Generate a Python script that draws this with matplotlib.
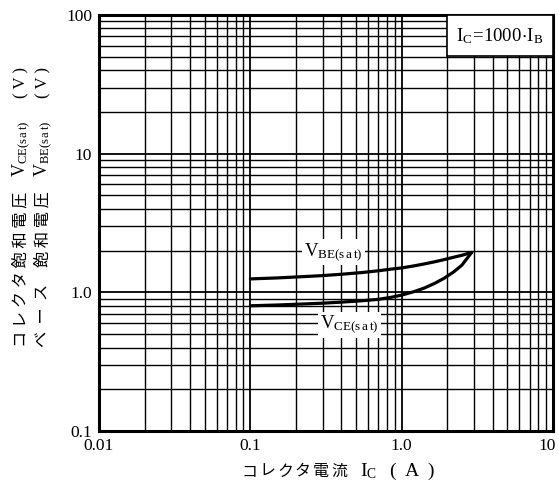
import matplotlib
matplotlib.use("Agg")
import matplotlib.pyplot as plt
from matplotlib.ticker import LogLocator, NullFormatter, FixedLocator, FixedFormatter
from matplotlib.patches import Rectangle
import matplotlib.transforms as mtransforms

plt.rcParams['font.family'] = ['Liberation Serif', 'Noto Sans CJK JP']
plt.rcParams['mathtext.fontset'] = 'custom'
plt.rcParams['mathtext.rm'] = 'Liberation Serif'
plt.rcParams['mathtext.it'] = 'Liberation Serif'

# Data
ic = [0.1, 0.15, 0.2, 0.3, 0.4, 0.55, 0.7, 0.85, 1.0, 1.2, 1.4, 1.65, 1.9, 2.2, 2.5, 2.9]
vbe = [1.25, 1.27, 1.29, 1.32, 1.35, 1.39, 1.43, 1.47, 1.50, 1.55, 1.60, 1.66, 1.72, 1.79, 1.85, 1.94]
vce = [0.80, 0.81, 0.82, 0.835, 0.85, 0.87, 0.89, 0.92, 0.955, 1.01, 1.07, 1.16, 1.26, 1.40, 1.57, 1.94]

xticks = [0.01, 0.1, 1.0, 10]
xticklabels = ['0.01', '0.1', '1.0', '10']
yticks = [0.1, 1.0, 10, 100]
yticklabels = ['0.1', '1.0', '10', '100']
xlabel_chars = ['コ', 'レ', 'ク', 'タ', '電', '流']

W, H = 559, 484
fig = plt.figure(figsize=(W / 100, H / 100), dpi=100)
ax = fig.add_axes([99 / W, 53 / H, 454 / W, 416 / H])
ax.set_xscale('log')
ax.set_yscale('log')
ax.set_xlim(0.01, 10)
ax.set_ylim(0.1, 100)

ax.xaxis.set_major_locator(FixedLocator(xticks))
ax.xaxis.set_major_formatter(FixedFormatter(xticklabels))
ax.yaxis.set_major_locator(FixedLocator(yticks))
ax.yaxis.set_major_formatter(FixedFormatter(yticklabels))
ax.xaxis.set_minor_locator(LogLocator(base=10, subs=range(2, 10)))
ax.yaxis.set_minor_locator(LogLocator(base=10, subs=range(2, 10)))
ax.xaxis.set_minor_formatter(NullFormatter())
ax.yaxis.set_minor_formatter(NullFormatter())

ax.grid(which='major', color='black', lw=1.3)
ax.grid(which='minor', color='black', lw=1.0)
ax.set_axisbelow(True)
ax.tick_params(which='both', length=0, labelsize=12.5, pad=5)
for s in ax.spines.values():
    s.set_linewidth(2.2)

# shift last x tick label slightly left so it stays inside the figure
fig.canvas.draw()
lbl = ax.get_xticklabels()[-1]
lbl.set_transform(lbl.get_transform() + mtransforms.ScaledTranslation(-4 / 72, 0, fig.dpi_scale_trans))

ax.plot(ic, vbe, color='black', lw=2.3, solid_capstyle='round', zorder=3)
ax.plot(ic, vce, color='black', lw=2.3, solid_capstyle='round', zorder=3)

ax.text(0.355, 1.95, r'$\mathregular{V_{BE(s\,a\,t)}}$', ha='center', va='center',
        fontsize=13.5, zorder=4,
        bbox=dict(facecolor='white', edgecolor='none', pad=1.5))
ax.text(0.45, 0.585, r'$\mathregular{V_{CE(s\,a\,t)}}$', ha='center', va='center',
        fontsize=13.5, zorder=4,
        bbox=dict(facecolor='white', edgecolor='none', pad=1.5))

ax.add_patch(Rectangle((0.767, 0.901), 0.233, 0.099, transform=ax.transAxes,
                       facecolor='white', edgecolor='black', lw=1.2, zorder=5,
                       clip_on=False))
ax.text(0.8835, 0.948, r'$\mathregular{I_C\!=\!1000\!\cdot\! I_B}$', transform=ax.transAxes,
        ha='center', va='center', fontsize=13.5, zorder=6)

# y-axis label (two rotated lines), composed of CJK text and serif formula parts
def fy(py):
    return 1 - py / H

cjk = dict(family=['Noto Sans CJK JP'], rotation=90, ha='center', va='bottom')
fig.text(21 / W, fy(347), 'コ レ ク タ 飽 和 電 圧', fontsize=11.7, **cjk)
fig.text(21 / W, fy(177), r'$\mathregular{V_{CE(s\,a\,t)}}$', rotation=90,
         ha='center', va='bottom', fontsize=13)
fig.text(21 / W, fy(98), '( V )', rotation=90, ha='center', va='bottom', fontsize=12)

fig.text(43 / W, fy(347), 'ベ  ー  ス', fontsize=11.7, **cjk)
fig.text(43 / W, fy(267), '飽 和 電 圧', fontsize=11.7, **cjk)
fig.text(43 / W, fy(177), r'$\mathregular{V_{BE(s\,a\,t)}}$', rotation=90,
         ha='center', va='bottom', fontsize=13)
fig.text(43 / W, fy(98), '( V )', rotation=90, ha='center', va='bottom', fontsize=12)

# x-axis label
for i, ch in enumerate(xlabel_chars):
    fig.text((241 + 18 * i) / W, fy(476), ch, family=['Noto Sans CJK JP'],
             ha='left', va='baseline', fontsize=11.5)
fig.text(360 / W, fy(476), r'$\mathregular{I_C}$', ha='left', va='baseline', fontsize=14)
fig.text(390 / W, fy(476), '(  A  )', ha='left', va='baseline', fontsize=14)

fig.savefig('out.png', dpi=100)
